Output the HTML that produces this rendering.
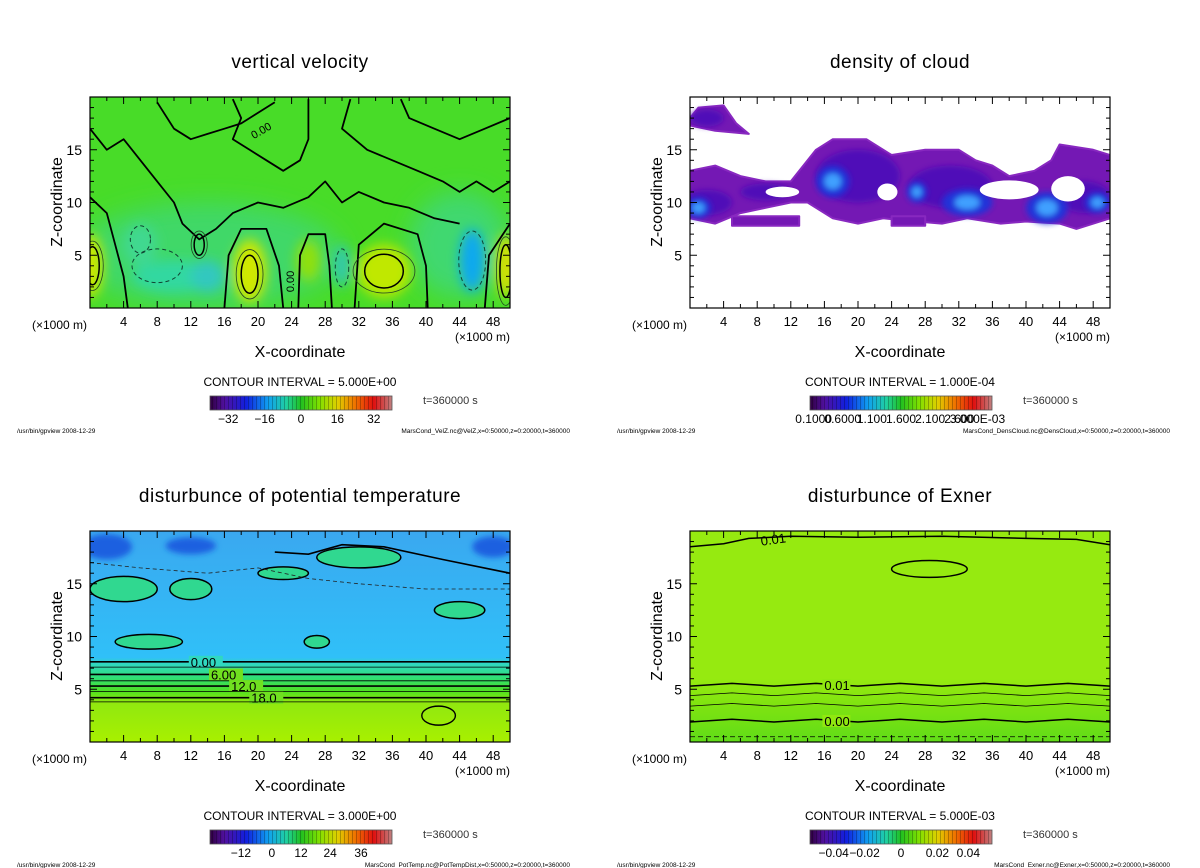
<!DOCTYPE html>
<html><head><meta charset="utf-8">
<style>
html,body{margin:0;padding:0;background:#fff;}
svg{display:block;font-family:"Liberation Sans","DejaVu Sans",sans-serif;}
</style></head>
<body>
<svg id="root" width="1200" height="868" viewBox="0 0 1200 868">
<defs>
<filter id="blur6" x="-50%" y="-50%" width="200%" height="200%"><feGaussianBlur stdDeviation="6"/></filter>
<filter id="blur12" x="-50%" y="-50%" width="200%" height="200%"><feGaussianBlur stdDeviation="12"/></filter>
<filter id="blur3" x="-50%" y="-50%" width="200%" height="200%"><feGaussianBlur stdDeviation="3"/></filter>
<linearGradient id="cmap" x1="0" x2="1" y1="0" y2="0">
<stop offset="0" stop-color="#300040"/><stop offset="0.08" stop-color="#5010a0"/>
<stop offset="0.2" stop-color="#1020e0"/><stop offset="0.32" stop-color="#10a0f0"/>
<stop offset="0.42" stop-color="#20d0a0"/><stop offset="0.5" stop-color="#20c020"/>
<stop offset="0.6" stop-color="#80e000"/><stop offset="0.7" stop-color="#e0d000"/>
<stop offset="0.8" stop-color="#f07000"/><stop offset="0.9" stop-color="#e01010"/>
<stop offset="1" stop-color="#c08080"/>
</linearGradient>
<pattern id="stripes" width="4" height="10" patternUnits="userSpaceOnUse">
<rect x="0" y="0" width="1" height="10" fill="rgba(0,0,0,0.25)"/>
</pattern>
<linearGradient id="p3bg" x1="0" x2="0" y1="0" y2="1">
<stop offset="0" stop-color="#3aa8f0"/><stop offset="0.6" stop-color="#30c0f8"/>
<stop offset="0.63" stop-color="#30d8c0"/><stop offset="0.7" stop-color="#30e070"/>
<stop offset="0.76" stop-color="#50e020"/><stop offset="0.81" stop-color="#90e810"/>
<stop offset="1" stop-color="#a8f000"/>
</linearGradient>
<linearGradient id="p4bg" x1="0" x2="0" y1="0" y2="1">
<stop offset="0" stop-color="#96ea10"/><stop offset="0.7" stop-color="#96ea10"/>
<stop offset="0.82" stop-color="#80e410"/><stop offset="1" stop-color="#60dc18"/>
</linearGradient>
</defs>
</svg>
<script>
const NS="http://www.w3.org/2000/svg";
const root=document.getElementById('root');
function mk(tag,attrs,parent){const e=document.createElementNS(NS,tag);for(const k in attrs)e.setAttribute(k,attrs[k]);(parent||root).appendChild(e);return e;}

// ---- data ----
const xTickLabels=[4,8,12,16,20,24,28,32,36,40,44,48];
const zTickLabels=[5,10,15];
const titles=["vertical velocity","density of cloud","disturbunce of potential temperature","disturbunce of Exner"];
const intervals=["CONTOUR INTERVAL = 5.000E+00","CONTOUR INTERVAL = 1.000E-04","CONTOUR INTERVAL = 3.000E+00","CONTOUR INTERVAL = 5.000E-03"];
const cbarLabels=[["−32","−16","0","16","32"],["0.1000","0.6000","1.100","1.600","2.100","2.600","3.000E-03"],["−12","0","12","24","36"],["−0.04","−0.02","0","0.02","0.04"]];
const cbarPos=[[0.1,0.3,0.5,0.7,0.9],[0.02,0.18,0.34,0.5,0.66,0.82,0.92],[0.17,0.34,0.5,0.66,0.83],[0.13,0.3,0.5,0.7,0.87]];
const footers=["MarsCond_VelZ.nc@VelZ,x=0:50000,z=0:20000,t=360000","MarsCond_DensCloud.nc@DensCloud,x=0:50000,z=0:20000,t=360000","MarsCond_PotTemp.nc@PotTempDist,x=0:50000,z=0:20000,t=360000","MarsCond_Exner.nc@Exner,x=0:50000,z=0:20000,t=360000"];
const velBlobX=[0,19,35,49.5,26,45.5,30,10,6,14];
const velBlobZ=[4,3.5,3.5,4,4.5,4.5,4,3,6,3];
const velBlobRX=[1.6,2,3.2,1.2,1.5,1.5,1,5,2,2];
const velBlobRZ=[3,3,2.5,3,2,3,2,1.5,2,1.5];
const velBlobC=["#c8e800","#d0e800","#c0e800","#d8e000","#90e010","#10a8f0","#30c8b0","#30d8a0","#40d890","#30c8c0"];
const velLines=[
 [[0,10.5],[2,9],[3,6],[4,3],[4.5,0]],
 [[16,0],[16.5,5],[18,7.5],[21,7.5],[22.5,4],[23,0]],
 [[24.8,0],[25,5],[26,7],[28,7],[28.5,4],[28.8,0]],
 [[31.5,0],[32,6],[35,8],[39,7],[40,4],[40.2,0]],
 [[47,0],[47.5,5],[50,8]],
 [[8,19.5],[10,17],[12,16],[14,16.5],[16,17],[18,17.5],[22,19.5]],
 [[0,17],[2,15],[4,16],[6,14],[8,12],[10,10],[11,8],[13,6.5],[15,7.5],[17,9],[20,10],[23,9.5],[26,10.5],[28,12],[30,10],[32,11],[35,10],[38,9.5],[41,8.5],[44,8]],
 [[17,19.8],[18,18],[17,16],[19,15],[21,14],[23,13],[25,14],[26,16],[26,19.8]],
 [[31,19.8],[30,17],[33,15],[36,14],[39,13],[42,12],[44,11],[46,12],[48,11],[50,12]],
 [[37,19.8],[38,18],[41,17],[44,16],[47,17],[50,18]]];
const velLoops=[[19,3.2,1,1.8],[35,3.5,2.3,1.6],[49.5,3.5,0.7,2.5],[0.3,4,0.8,1.8],[13,6,0.6,1]];
const velDash=[[45.5,4.5,1.6,2.8],[30,3.8,0.8,1.8],[8,4,3,1.6],[6,6.5,1.2,1.3]];
const cloudPolys=[
 [[0,18],[1,19],[4,19.2],[5.5,17.5],[7,16.5],[3,16.8],[0,17.3]],
 [[0,13],[3,13.5],[6,12.5],[9,12],[12,12],[15,15],[17,16],[21,16],[24,14.5],[28,15],[32,15],[34,14],[36,13.5],[38,12.5],[41,13],[43,14],[44,15.5],[48,15],[50,14.5],[50,8.5],[46,7.5],[44,8],[40,8.2],[37,8],[33,8.5],[30,8],[27,8.2],[23,8.5],[20,8],[17,8.5],[14,10],[12,10],[9,9.5],[6,9],[3,8],[0,8.5]],
 [[5,8.7],[13,8.7],[13,7.8],[5,7.8]],
 [[24,8.7],[28,8.7],[28,7.8],[24,7.8]]];
const cloudMid=[[20,12.5,5,2.5],[31,11.5,5,2],[2,10,3,1.2],[47,10.5,3,1.5],[9,11,3,0.8],[2,18,2,0.8]];
const cloudBlue=[[17,12,2,1.5],[33,10,3,1.3],[42.5,9.5,2.5,1.5],[1,9.5,1.5,1],[27,11,1.2,1],[48.5,10,1.5,1]];
const cloudHole=[[38,11.2,3.5,0.9],[45,11.3,2,1.2],[23.5,11,1.2,0.8],[11,11,2,0.5]];
const ptGreen=[[32,17.5,5,1],[4,14.5,4,1.2],[12,14.5,2.5,1],[23,16,3,0.6],[44,12.5,3,0.8],[7,9.5,4,0.7],[27,9.5,1.5,0.6]];
const ptDark=[[2,18.5,3,1.2],[12,18.6,3,0.8],[48,18.5,2.5,1]];
const ptLevels=[7.6,7.1,6.4,5.8,5.3,4.8,4.2,3.8];
const ptLabels=["0.00","","6.00","","12.0","","18.0",""];
const exLevels=[5.4,4.5,3.5,2.0];
const exLabels=["0.01","","","0.00"];

// ---- layout ----
const panels=[{x:90,y:97},{x:690,y:97},{x:90,y:531},{x:690,y:531}];
const PW=420,PH=211,XMAX=50,ZMAX=20;

function axes(p){
 return {sx:v=>p.x+v/XMAX*PW, sz:v=>p.y+PH-v/ZMAX*PH, sw:v=>v/XMAX*PW, sh:v=>v/ZMAX*PH};
}
function ptsPath(a,pts,close){return pts.map((q,i)=>(i?'L':'M')+a.sx(q[0]).toFixed(1)+' '+a.sz(q[1]).toFixed(1)).join(' ')+(close?'Z':'');}

panels.forEach((p,i)=>{
 const a=axes(p);
 const g=mk('g',{});
 
 
 const clipId='clip'+i;
 const cp=mk('clipPath',{id:clipId},g);mk('rect',{x:p.x,y:p.y,width:PW,height:PH},cp);
 const field=mk('g',{'clip-path':'url(#'+clipId+')'},g);
 
 
 if(i===0){
  mk('rect',{x:p.x,y:p.y,width:PW,height:PH,fill:'#48dc28'},field);
  mk('ellipse',{cx:a.sx(14),cy:a.sz(5),rx:a.sw(16),ry:a.sh(5),fill:'#40d868',filter:'url(#blur12)'},field);
  mk('ellipse',{cx:a.sx(44),cy:a.sz(6),rx:a.sw(6),ry:a.sh(5),fill:'#40d870',filter:'url(#blur12)'},field);
  const bl=mk('g',{filter:'url(#blur6)'},field);
  velBlobX.forEach((x,k)=>{const e=mk('ellipse',{cx:a.sx(x),cy:a.sz(velBlobZ[k]),rx:a.sw(velBlobRX[k]),ry:a.sh(velBlobRZ[k]),fill:velBlobC[k]},bl);
   });
  velLines.forEach(l=>{const e=mk('path',{d:ptsPath(a,l),fill:'none',stroke:'#000','stroke-width':1.8,'stroke-linejoin':'round'},field);
   });
  velLoops.forEach(l=>{const e=mk('ellipse',{cx:a.sx(l[0]),cy:a.sz(l[1]),rx:a.sw(l[2]),ry:a.sh(l[3]),fill:'none',stroke:'#000','stroke-width':1.5},field);
   
   const e2=mk('ellipse',{cx:a.sx(l[0]),cy:a.sz(l[1]),rx:a.sw(l[2])*1.6,ry:a.sh(l[3])*1.3,fill:'none',stroke:'#224422','stroke-width':0.8},field);
   });
  velDash.forEach(l=>{const e=mk('ellipse',{cx:a.sx(l[0]),cy:a.sz(l[1]),rx:a.sw(l[2]),ry:a.sh(l[3]),fill:'none',stroke:'#114433','stroke-width':1,'stroke-dasharray':'4 3'},field);
   });
  const t=mk('text',{x:a.sx(24.3),y:a.sz(1.5),'font-size':11,transform:`rotate(-90 ${a.sx(24.3)} ${a.sz(1.5)})`},field);t.textContent='0.00';
  
  const t2=mk('text',{x:a.sx(19.5),y:a.sz(16),'font-size':11,transform:`rotate(-30 ${a.sx(19.5)} ${a.sz(16)})`},field);t2.textContent='0.00';
  
 } else if(i===1){
  mk('rect',{x:p.x,y:p.y,width:PW,height:PH,fill:'#fff'},field);
  cloudPolys.forEach(pl=>{const e=mk('path',{d:ptsPath(a,pl,true),fill:'#7418b4',stroke:'#8828c0','stroke-width':2,'stroke-linejoin':'round'},field);
   });
  const bm=mk('g',{filter:'url(#blur3)'},field);
  cloudMid.forEach(c=>{const e=mk('ellipse',{cx:a.sx(c[0]),cy:a.sz(c[1]),rx:a.sw(c[2]),ry:a.sh(c[3]),fill:'#5010b8'},bm);
   });
  const bl=mk('g',{filter:'url(#blur3)'},field);
  cloudBlue.forEach(c=>{const e=mk('ellipse',{cx:a.sx(c[0]),cy:a.sz(c[1]),rx:a.sw(c[2]),ry:a.sh(c[3]),fill:'#2030d8'},bl);
   
   const e2=mk('ellipse',{cx:a.sx(c[0]),cy:a.sz(c[1]),rx:a.sw(c[2])*0.5,ry:a.sh(c[3])*0.5,fill:'#40a0ff'},bl);
   });
  cloudHole.forEach(c=>{const e=mk('ellipse',{cx:a.sx(c[0]),cy:a.sz(c[1]),rx:a.sw(c[2]),ry:a.sh(c[3]),fill:'#fff'},field);
   });
 } else if(i===2){
  mk('rect',{x:p.x,y:p.y,width:PW,height:PH,fill:'url(#p3bg)'},field);
  const bl=mk('g',{filter:'url(#blur3)'},field);
  ptDark.forEach(c=>{const e=mk('ellipse',{cx:a.sx(c[0]),cy:a.sz(c[1]),rx:a.sw(c[2]),ry:a.sh(c[3]),fill:'#1a60e0'},bl);
   });
  ptGreen.forEach(c=>{const e=mk('ellipse',{cx:a.sx(c[0]),cy:a.sz(c[1]),rx:a.sw(c[2]),ry:a.sh(c[3]),fill:'#30d890',stroke:'#000','stroke-width':1.5},field);
   });
  ptLevels.forEach((z,k)=>{const e=mk('line',{x1:p.x,x2:p.x+PW,y1:a.sz(z),y2:a.sz(z),stroke:'#000','stroke-width':k%2?0.8:1.6},field);
   
   if(ptLabels[k]){const tx=a.sx(12+k*1.2);mk('rect',{x:tx-2,y:a.sz(z)-6,width:34,height:12,fill:k<2?'#30d8c0':'#70e020'},field);
    const t=mk('text',{x:tx,y:a.sz(z)+5,'font-size':13},field);t.textContent=ptLabels[k];
    }});
  const e=mk('path',{d:ptsPath(a,[[0,17],[6,16.5],[14,16],[20,16.5],[26,15.5],[32,15],[40,14.5],[50,14.5]]),fill:'none',stroke:'#222','stroke-width':0.8,'stroke-dasharray':'4 3'},field);
  
  const e2=mk('path',{d:ptsPath(a,[[22,18],[26,17.8],[30,18.7],[35,18.5],[42,17.3],[50,16]]),fill:'none',stroke:'#000','stroke-width':1.6},field);
  
  const lo=mk('ellipse',{cx:a.sx(41.5),cy:a.sz(2.5),rx:a.sw(2),ry:a.sh(0.9),fill:'none',stroke:'#000','stroke-width':1.4},field);
  
 } else {
  mk('rect',{x:p.x,y:p.y,width:PW,height:PH,fill:'url(#p4bg)'},field);
  const ex=mk('path',{d:ptsPath(a,[[0,18.5],[4,18.8],[7,19.3],[12,19.5],[20,19.4],[30,19.5],[40,19.3],[46,19.2],[50,18.7]]),fill:'none',stroke:'#000','stroke-width':1.5},field);
  
  const lo=mk('ellipse',{cx:a.sx(28.5),cy:a.sz(16.4),rx:a.sw(4.5),ry:a.sh(0.8),fill:'none',stroke:'#000','stroke-width':1.5},field);
  
  exLevels.forEach((z,k)=>{const pts=[];for(let x=0;x<=50;x+=5)pts.push([x,z+((x/5)%2?0.15:-0.1)]);
   const e=mk('path',{d:ptsPath(a,pts),fill:'none',stroke:'#000','stroke-width':k===0||k===3?1.5:0.8},field);
   
   if(exLabels[k]){const tx=a.sx(16);mk('rect',{x:tx-2,y:a.sz(z)-6,width:28,height:12,fill:'#90e810'},field);
    const t=mk('text',{x:tx,y:a.sz(z)+5,'font-size':13},field);t.textContent=exLabels[k];
    }});
  const d=mk('line',{x1:p.x,x2:p.x+PW,y1:a.sz(0.5),y2:a.sz(0.5),stroke:'#000','stroke-width':0.8,'stroke-dasharray':'5 3'},field);
  
  const t=mk('text',{x:a.sx(8.5),y:a.sz(18.6),'font-size':13,transform:`rotate(-8 ${a.sx(8.5)} ${a.sz(18.6)})`},field);t.textContent='0.01';
  
 }
 const fr=mk('rect',{x:p.x,y:p.y,width:PW,height:PH,fill:'none',stroke:'#000','stroke-width':1.2},g);
 
 for(let v=2;v<50;v+=2){const L=v%4?4:7;
  mk('line',{x1:a.sx(v),x2:a.sx(v),y1:p.y+PH,y2:p.y+PH-L,stroke:'#000'},g);
  mk('line',{x1:a.sx(v),x2:a.sx(v),y1:p.y,y2:p.y+L,stroke:'#000'},g);}
 for(let v=1;v<20;v++){const L=v%5?4:7;
  mk('line',{x1:p.x,x2:p.x+L,y1:a.sz(v),y2:a.sz(v),stroke:'#000'},g);
  mk('line',{x1:p.x+PW,x2:p.x+PW-L,y1:a.sz(v),y2:a.sz(v),stroke:'#000'},g);}
 xTickLabels.forEach(v=>{const t=mk('text',{x:a.sx(v),y:p.y+PH+18,'font-size':13,'text-anchor':'middle'},g);t.textContent=v;
  });
 zTickLabels.forEach(v=>{const t=mk('text',{x:p.x-8,y:a.sz(v)+5,'font-size':14,'text-anchor':'end'},g);t.textContent=v;
  });
 const cx=p.x+210;
 const tt=mk('text',{x:cx,y:p.y-29,'font-size':19,'text-anchor':'middle','letter-spacing':'0.5'},g);tt.textContent=titles[i];
 
 const yl=mk('text',{x:p.x-28,y:p.y+105,'font-size':16,'text-anchor':'middle',transform:`rotate(-90 ${p.x-28} ${p.y+105})`},g);yl.textContent='Z-coordinate';
 
 const u1=mk('text',{x:p.x-58,y:p.y+232,'font-size':12},g);u1.textContent='(×1000 m)';
 
 const u2=mk('text',{x:p.x+365,y:p.y+244,'font-size':12},g);u2.textContent='(×1000 m)';
 
 const xl=mk('text',{x:cx,y:p.y+260,'font-size':16,'text-anchor':'middle'},g);xl.textContent='X-coordinate';
 
 const ci=mk('text',{x:cx,y:p.y+289,'font-size':12,'text-anchor':'middle'},g);ci.textContent=intervals[i];
 
 const cb=mk('g',{},g);
 const bx=p.x+120,by=p.y+299,bw=182,bh=14;
 mk('rect',{x:bx,y:by,width:bw,height:bh,fill:'url(#cmap)'},cb);
 mk('rect',{x:bx,y:by,width:bw,height:bh,fill:'url(#stripes)'},cb);
 mk('rect',{x:bx,y:by,width:bw,height:bh,fill:'none',stroke:'#555','stroke-width':0.8},cb);
 cbarLabels[i].forEach((s,k)=>{const t=mk('text',{x:bx+bw*cbarPos[i][k],y:by+27,'font-size':12,'text-anchor':'middle'},cb);t.textContent=s;
  });
 const tm=mk('text',{x:p.x+333,y:p.y+307,'font-size':11,fill:'#333'},g);tm.textContent='t=360000 s';
 
 const f1=mk('text',{x:p.x-73,y:p.y+336,'font-size':6.5},g);f1.textContent='/usr/bin/gpview   2008-12-29';
 
 const f2=mk('text',{x:p.x+480,y:p.y+336,'font-size':6.5,'text-anchor':'end'},g);f2.textContent=footers[i];
 
});
</script>
</body></html>
